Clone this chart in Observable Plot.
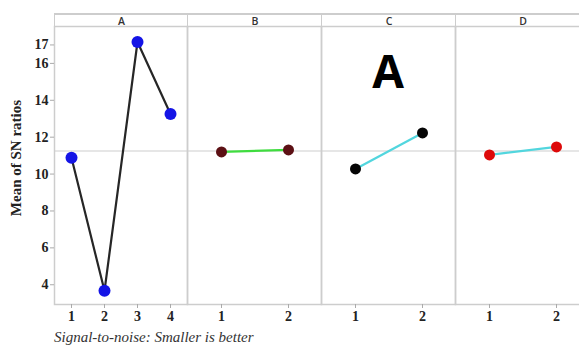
<!DOCTYPE html>
<html><head><meta charset="utf-8">
<script src="https://cdn.jsdelivr.net/npm/d3@7"></script>
<script src="https://cdn.jsdelivr.net/npm/@observablehq/plot@0.6"></script>
<style>
html,body{margin:0;padding:0;background:#fff;}
body{width:579px;height:345px;overflow:hidden;position:relative;}
.hdr{position:absolute;top:13px;height:12px;box-sizing:content-box;border-top:2px solid #cdcdcd;border-left:1.5px solid #cdcdcd;
  font:600 10.5px "Open Sans",sans-serif;color:#333;text-align:center;line-height:12px;}
.panel{position:absolute;top:25px;}
.panel svg{max-width:none !important;}
.panel svg text{font-weight:700;}
#ylab{position:absolute;left:16px;top:158px;transform:translate(-50%,-50%) rotate(-90deg);white-space:nowrap;
  font:bold 15px "Liberation Serif",serif;color:#222;}
#cap{position:absolute;left:54px;top:329px;font:italic 15px "Liberation Serif",serif;color:#333;white-space:nowrap;}
#big{position:absolute;left:388px;top:70px;transform:translate(-50%,-50%);font:bold 46px "Open Sans",sans-serif;color:#000;}
</style></head>
<body>
<div id="ylab">Mean of SN ratios</div>
<div id="cap">Signal-to-noise: Smaller is better</div>
<script>
const factors = ["A", "B", "C", "D"];
const levelA = [1, 2, 3, 4];
const meanA = [10.88, 3.67, 17.16, 13.26];
const levelB = [1, 2];
const meanB = [11.20, 11.31];
const levelC = [1, 2];
const meanC = [10.28, 12.23];
const levelD = [1, 2];
const meanD = [11.04, 11.47];
const yTicks = [4, 6, 8, 10, 12, 14, 16, 17];

const lineColors = ["#262626", "#3fdc3f", "#52d6de", "#52d6de"];
const dotColors = ["#1414e6", "#5c1014", "#050505", "#dd0a0a"];
const dotR = [6, 5.5, 5.5, 5.5];

const allLevels = [levelA, levelB, levelC, levelD];
const allMeans = [meanA, meanB, meanC, meanD];
const grand = d3.mean(meanA.concat(meanB, meanC, meanD));

const lefts = [0, 187, 321, 455];
const plotW = [133, 134, 134, 134];

factors.forEach((f, i) => {
  const data = allLevels[i].map((l, j) => ({level: l, sn: allMeans[i][j]}));
  const ml = i === 0 ? 54 : 0;
  const hdr = document.createElement("div");
  hdr.className = "hdr";
  hdr.style.left = (lefts[i] + ml) + "px";
  hdr.style.width = plotW[i] + "px";
  hdr.textContent = f;
  document.body.appendChild(hdr);

  const marks = [
    Plot.frame({stroke: "#cdcdcd", strokeWidth: 1.5}),
    Plot.ruleY([grand], {stroke: "#cdcdcd", strokeWidth: 1.2}),
    Plot.axisX({ticks: allLevels[i], tickSize: 4, tickPadding: 3, stroke: "#aaa", fill: "#222", fontSize: 14, fontWeight: "bold", label: null, tickFormat: d => d})
  ];
  if (i === 0) marks.push(Plot.axisY({ticks: yTicks, tickSize: 4, tickPadding: 2, stroke: "#aaa", fill: "#222", fontSize: 14, fontWeight: "bold", label: null}));
  marks.push(
    Plot.line(data, {x: "level", y: "sn", stroke: lineColors[i], strokeWidth: 2.2}),
    Plot.dot(data, {x: "level", y: "sn", r: dotR[i], fill: dotColors[i]})
  );
  const chart = Plot.plot({
    width: ml + plotW[i],
    height: 301,
    marginLeft: ml, marginRight: 0, marginTop: 1, marginBottom: 22,
    x: {type: "point", domain: allLevels[i], padding: 0.5, axis: null},
    y: {domain: [2.93, 18], axis: null},
    style: {fontFamily: "'Liberation Serif', serif", background: "transparent", overflow: "visible"},
    marks
  });
  const wrap = document.createElement("div");
  wrap.className = "panel";
  wrap.style.left = lefts[i] + "px";
  wrap.style.width = (ml + plotW[i]) + "px";
  wrap.appendChild(chart);
  document.body.appendChild(wrap);
});

const big = document.createElement("div");
big.id = "big";
big.textContent = "A";
document.body.appendChild(big);
</script>
</body></html>
